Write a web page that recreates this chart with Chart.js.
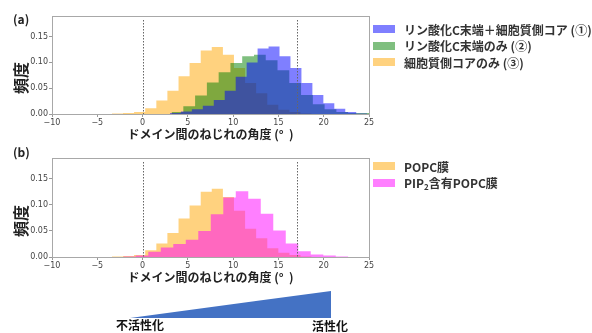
<!DOCTYPE html>
<html>
<head>
<meta charset="utf-8">
<script src="https://cdn.jsdelivr.net/npm/chart.js@4.4.1/dist/chart.umd.min.js"></script>
<style>
  html, body { margin: 0; padding: 0; background: #fff; }
  body { width: 592px; height: 333px; position: relative; overflow: hidden;
         font-family: "Noto Sans CJK JP", "Noto Sans", sans-serif; }
  .abs { position: absolute; }
  canvas { position: absolute; left: 0; }
  .panel { font-weight: bold; font-size: 12px; color: #222; line-height: 12px; }
  .ylab { font-weight: bold; font-size: 16px; color: #222; line-height: 16px;
          transform: translate(-50%, -50%) rotate(-90deg); white-space: nowrap; }
  .leg { position: absolute; left: 373px; height: 14px; display: flex; align-items: center;
         font-weight: bold; font-size: 12px; color: #333; white-space: nowrap; transform: translateY(-50%); }
  .sw { display: inline-block; width: 22px; height: 8px; margin-right: 9px; }
  .leg sub { font-size: 8px; vertical-align: -2px; line-height: 0; }
  .tri-lab { position: absolute; font-weight: bold; font-size: 12px; color: #111;
             transform: translate(-50%, -50%); white-space: nowrap; line-height: 12px; }
</style>
</head>
<body>
<canvas id="chartA" width="592" height="142" style="top:0;width:592px;height:142px"></canvas>
<canvas id="chartB" width="592" height="143" style="top:142px;width:592px;height:143px"></canvas>

<div class="abs panel" style="left:13px;top:13px">(a)</div>
<div class="abs panel" style="left:13px;top:146px">(b)</div>
<div class="abs ylab" style="left:20px;top:78px">頻度</div>
<div class="abs ylab" style="left:20px;top:221px">頻度</div>

<div id="legendA"></div>
<div id="legendB"></div>

<svg class="abs" style="left:0;top:0" width="592" height="333">
  <polygon points="130,318 331,291 331,318" fill="#4472C4"></polygon>
</svg>
<div class="tri-lab" style="left:140px;top:325px">不活性化</div>
<div class="tri-lab" style="left:330px;top:326px">活性化</div>

<script>
// Axis ticks shared by both panels
const xTicks = [-10, -5, 0, 5, 10, 15, 20, 25];
const xTickLabels = ['−10', '−5', '0', '5', '10', '15', '20', '25'];
const yTicks = [0, 0.05, 0.10, 0.15];
const yTickLabels = ['0.00', '0.05', '0.10', '0.15'];
const refLines = [0, 17];
const xTitle = 'ドメイン間のねじれの角度 (°  )';

// (a) bin edges and frequencies
const bothEdges = [3.02, 4.23, 5.44, 6.65, 7.86, 9.07, 10.28, 11.49, 12.70, 13.91, 15.12, 16.33, 17.54, 18.75, 19.96, 21.17, 22.38, 23.59, 24.80];
const bothFreq  = [0.002, 0.005, 0.009, 0.016, 0.027, 0.045, 0.072, 0.100, 0.127, 0.131, 0.112, 0.089, 0.060, 0.037, 0.021, 0.010, 0.004, 0.001];

const ctermEdges = [3.2, 4.5, 5.8, 7.1, 8.4, 9.7, 11.0, 12.3, 13.6, 14.9, 16.2, 17.5, 18.8, 20.1, 21.4, 22.7, 24.0, 25.3];
const ctermFreq  = [0.004, 0.015, 0.036, 0.061, 0.081, 0.099, 0.112, 0.115, 0.104, 0.085, 0.060, 0.037, 0.019, 0.009, 0.004, 0.002, 0.002];

const coreEdges = [-3.39, -2.16, -0.94, 0.29, 1.52, 2.74, 3.97, 5.19, 6.42, 7.64, 8.87, 10.09, 11.32, 12.54, 13.77, 14.99, 16.22, 17.44, 18.67];
const coreFreq  = [0.001, 0.002, 0.004, 0.011, 0.026, 0.045, 0.073, 0.099, 0.123, 0.130, 0.115, 0.089, 0.060, 0.040, 0.018, 0.008, 0.004, 0.001];

// (b) bin edges and frequencies
const popcEdges = [-3.39, -2.16, -0.94, 0.29, 1.52, 2.74, 3.97, 5.19, 6.42, 7.64, 8.87, 10.09, 11.32, 12.54, 13.77, 14.99, 16.22, 17.44, 18.67];
const popcFreq  = [0.001, 0.002, 0.004, 0.013, 0.026, 0.046, 0.074, 0.099, 0.125, 0.131, 0.115, 0.089, 0.054, 0.036, 0.017, 0.008, 0.004, 0.001];

const pip2Edges = [-2.13, -0.75, 0.63, 2.01, 3.39, 4.77, 6.15, 7.53, 8.91, 10.29, 11.67, 13.05, 14.43, 15.81, 17.19, 18.57, 19.95, 21.33, 22.71];
const pip2Freq  = [0.001, 0.003, 0.010, 0.018, 0.025, 0.033, 0.050, 0.082, 0.114, 0.126, 0.112, 0.083, 0.051, 0.026, 0.011, 0.005, 0.003, 0.001];

const labelsA = ['リン酸化C末端＋細胞質側コア (①)', 'リン酸化C末端のみ (②)', '細胞質側コアのみ (③)'];
const labelsB = ['POPC膜', 'PIP<sub>2</sub>含有POPC膜'];

const C_BLUE = 'rgba(0,0,255,0.5)';
const C_GREEN = 'rgba(0,128,0,0.5)';
const C_ORANGE = 'rgba(255,165,0,0.5)';
const C_MAGENTA = 'rgba(255,0,255,0.5)';

// histogram outline as step points: each bin's value held from its left edge to the next edge
function steps(edges, freq) {
  const pts = freq.map((v, i) => ({ x: edges[i], y: v }));
  pts.push({ x: edges[edges.length - 1], y: 0 });
  return pts;
}

function histSet(label, edges, freq, color, order) {
  return {
    label, data: steps(edges, freq), stepped: 'before',
    fill: 'origin', backgroundColor: color, borderWidth: 0, borderColor: 'rgba(0,0,0,0)',
    pointRadius: 0, order
  };
}

// dotted reference lines and the box around the plot area
const framePlugin = {
  id: 'frame',
  afterDatasetsDraw(chart) {
    const { ctx, chartArea: a } = chart;
    const x = chart.scales.x;
    ctx.save();
    ctx.strokeStyle = '#666';
    ctx.lineWidth = 1;
    ctx.setLineDash([1.5, 1.5]);
    refLines.forEach(v => {
      const px = Math.round(x.getPixelForValue(v)) + 0.5;
      ctx.beginPath();
      ctx.moveTo(px, a.top + 4);
      ctx.lineTo(px, a.bottom);
      ctx.stroke();
    });
    ctx.setLineDash([]);
    ctx.strokeStyle = '#a8a8a8';
    ctx.strokeRect(a.left + 0.5, a.top + 0.5, a.right - a.left, a.bottom - a.top);
    ctx.restore();
  }
};

const tickFont = { family: 'DejaVu Sans', size: 8 };
const tickGrid = { display: true, drawOnChartArea: false, drawTicks: true, tickLength: 3, tickColor: '#999', tickWidth: 1 };

function options() {
  return {
    responsive: false, animation: false, devicePixelRatio: 1,
    layout: { padding: { left: 0, right: 223, top: 16, bottom: 0 } },
    plugins: { legend: { display: false }, tooltip: { enabled: false } },
    scales: {
      x: {
        type: 'linear', min: -10, max: 25,
        afterBuildTicks: s => { s.ticks = xTicks.map(v => ({ value: v })); },
        afterFit: s => { s.height = 28; },
        ticks: { callback: (v, i) => xTickLabels[i], font: tickFont, color: '#444', padding: 1, maxRotation: 0, autoSkip: false },
        grid: tickGrid, border: { display: false },
        title: { display: true, text: xTitle, color: '#222', padding: { top: 0, bottom: 0 },
                 font: { family: 'Noto Sans CJK JP', size: 12, weight: 'bold' } }
      },
      y: {
        type: 'linear', min: 0, max: 0.19,
        afterBuildTicks: s => { s.ticks = yTicks.map(v => ({ value: v })); },
        afterFit: s => { s.width = 52; },
        ticks: { callback: (v, i) => yTickLabels[i], font: tickFont, color: '#444', padding: 1 },
        grid: tickGrid, border: { display: false }
      }
    }
  };
}

new Chart(document.getElementById('chartA'), {
  type: 'line',
  data: {
    datasets: [
      histSet(labelsA[0], bothEdges, bothFreq, C_BLUE, 0),
      histSet(labelsA[1], ctermEdges, ctermFreq, C_GREEN, 1),
      histSet(labelsA[2], coreEdges, coreFreq, C_ORANGE, 2)
    ]
  },
  options: options(),
  plugins: [framePlugin]
});

new Chart(document.getElementById('chartB'), {
  type: 'line',
  data: {
    datasets: [
      histSet(labelsB[0], popcEdges, popcFreq, C_ORANGE, 1),
      histSet(labelsB[1], pip2Edges, pip2Freq, C_MAGENTA, 0)
    ]
  },
  options: options(),
  plugins: [framePlugin]
});

// legends beside each panel
function legend(id, labels, colors, centers) {
  const host = document.getElementById(id);
  labels.forEach((t, i) => {
    const d = document.createElement('div');
    d.className = 'leg';
    d.style.top = centers[i] + 'px';
    d.innerHTML = '<span class="sw" style="background:' + colors[i] + '"></span><span>' + t + '</span>';
    host.appendChild(d);
  });
}
legend('legendA', labelsA, [C_BLUE, C_GREEN, C_ORANGE], [29, 45.5, 62]);
legend('legendB', labelsB, [C_ORANGE, C_MAGENTA], [166, 182.5]);
</script>
</body>
</html>
